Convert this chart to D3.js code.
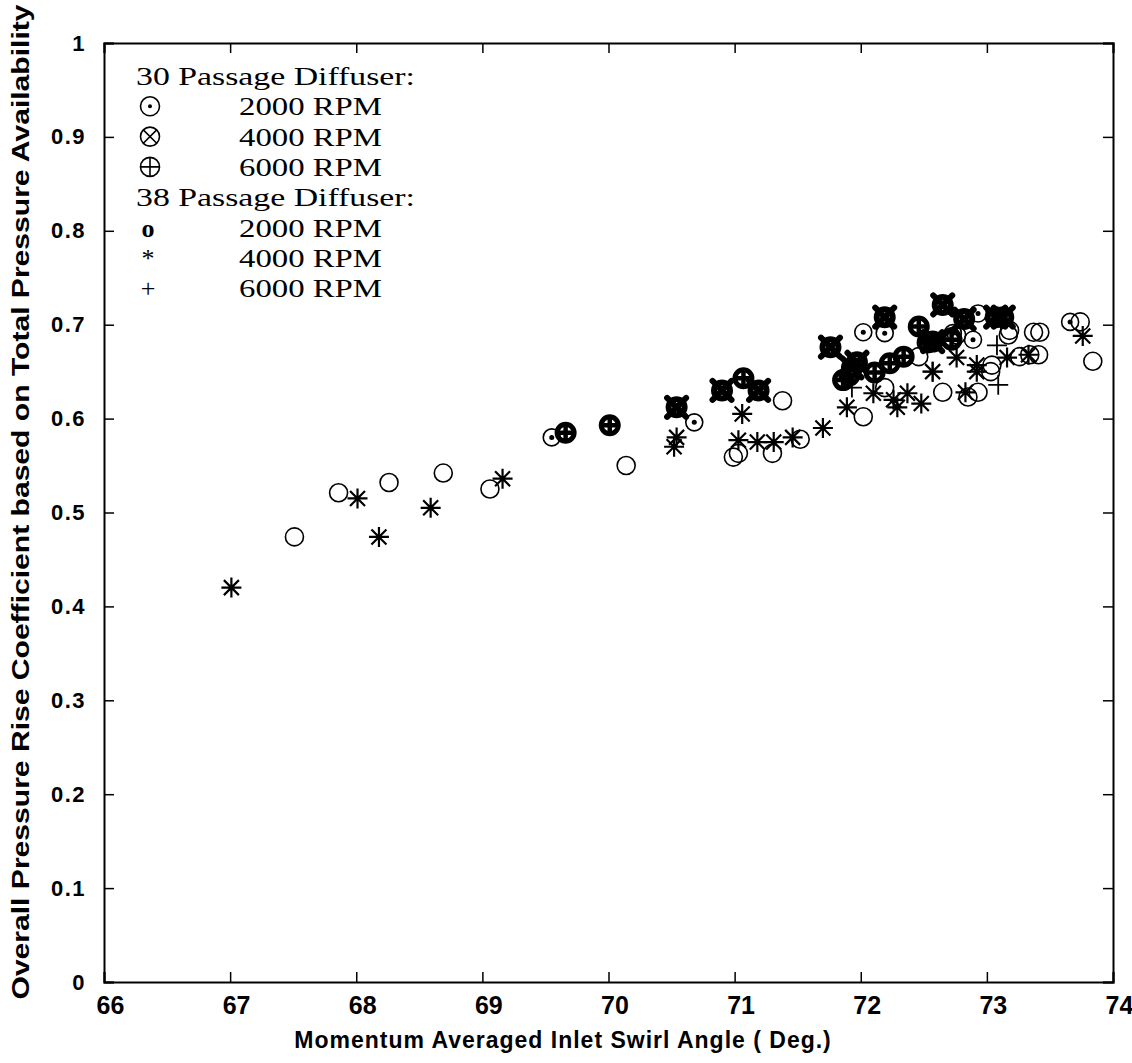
<!DOCTYPE html>
<html>
<head>
<meta charset="utf-8">
<script src="https://cdn.jsdelivr.net/npm/d3@7"></script>
<style>
  body { margin: 0; background: #fff; }
  svg text { fill: #000; }
</style>
</head>
<body>
<div id="chart"></div>
<script>
// 30 passage diffuser, [swirl angle, pressure rise coefficient]
const p30_2000 = [[69.55, 0.580], [70.68, 0.596], [72.02, 0.692], [72.19, 0.691], [72.93, 0.712],
  [72.89, 0.684], [72.73, 0.691], [73.66, 0.703]];
const p30_4000 = [[70.54, 0.612], [70.90, 0.630], [71.19, 0.630], [71.76, 0.676], [71.97, 0.660],
  [72.19, 0.708], [72.65, 0.721], [72.82, 0.706], [72.57, 0.682], [73.07, 0.708], [73.13, 0.708],
  [71.93, 0.654]];
const p30_6000 = [[69.66, 0.585], [70.01, 0.593], [71.07, 0.643], [71.86, 0.641], [71.91, 0.646],
  [72.11, 0.649], [72.23, 0.659], [72.34, 0.666], [72.46, 0.698], [72.53, 0.681], [72.72, 0.684]];

// 38 passage diffuser
const p38_2000 = [[67.51, 0.474], [67.86, 0.521], [68.26, 0.532], [68.69, 0.542], [69.06, 0.525],
  [70.14, 0.550], [70.99, 0.559], [71.03, 0.563], [71.30, 0.563], [71.38, 0.619], [71.52, 0.578],
  [72.02, 0.602], [72.19, 0.633], [72.46, 0.666], [72.65, 0.628], [72.85, 0.623], [72.93, 0.628],
  [73.03, 0.650], [73.04, 0.657], [72.72, 0.687], [72.76, 0.689], [73.17, 0.689], [73.18, 0.694],
  [73.26, 0.666], [73.34, 0.668], [73.41, 0.668], [73.37, 0.692], [73.42, 0.692], [73.74, 0.703],
  [73.84, 0.661]];
const p38_4000 = [[67.01, 0.420], [68.01, 0.515], [68.18, 0.474], [68.59, 0.505], [69.16, 0.536],
  [70.54, 0.580], [70.52, 0.570], [71.06, 0.605], [71.03, 0.577], [71.18, 0.575], [71.31, 0.575],
  [71.46, 0.580], [71.70, 0.590], [71.89, 0.612], [72.10, 0.627], [72.26, 0.620], [72.29, 0.612],
  [72.37, 0.627], [72.48, 0.616], [72.57, 0.650], [72.76, 0.665], [72.83, 0.628], [72.92, 0.657],
  [72.92, 0.650], [73.16, 0.665], [73.33, 0.668], [73.76, 0.688]];
const p38_6000 = [[72.57, 0.650], [73.08, 0.678], [73.09, 0.636], [71.93, 0.633]];

const xTicks = [66, 67, 68, 69, 70, 71, 72, 73, 74];
const yTicks = [0, 0.1, 0.2, 0.3, 0.4, 0.5, 0.6, 0.7, 0.8, 0.9, 1];

const legendRows = [
  { sym: "", text: "30 Passage Diffuser:" },
  { sym: "dot", text: "2000 RPM" },
  { sym: "cross", text: "4000 RPM" },
  { sym: "plus", text: "6000 RPM" },
  { sym: "", text: "38 Passage Diffuser:" },
  { sym: "o", text: "2000 RPM" },
  { sym: "*", text: "4000 RPM" },
  { sym: "+", text: "6000 RPM" }
];

const width = 1132, height = 1063;
const margin = { left: 104, right: 19, top: 43, bottom: 81 };

const svg = d3.select("#chart").append("svg")
  .attr("width", width)
  .attr("height", height);

const x = d3.scaleLinear().domain([66, 74]).range([margin.left, width - margin.right]);
const y = d3.scaleLinear().domain([0, 1]).range([height - margin.bottom, margin.top]);

const sansFont = "'Liberation Sans', Arial, sans-serif";
const serifFont = "'Liberation Serif', 'Times New Roman', serif";

// axes with inward ticks on all four sides
const tickLen = 10;
svg.append("g").attr("class", "xaxis").attr("transform", `translate(0,${y(0)})`)
  .call(d3.axisBottom(x).tickValues(xTicks).tickSize(-tickLen).tickFormat(d3.format("d")).tickPadding(14));
svg.append("g").attr("transform", `translate(0,${y(1)})`)
  .call(d3.axisTop(x).tickValues(xTicks).tickSize(-tickLen).tickFormat(""));
svg.append("g").attr("class", "yaxis").attr("transform", `translate(${x(66)},0)`)
  .call(d3.axisLeft(y).tickValues(yTicks).tickSize(-tickLen).tickFormat(d => d === 0 || d === 1 ? d : d3.format(".1f")(d)).tickPadding(18));
svg.append("g").attr("transform", `translate(${x(74)},0)`)
  .call(d3.axisRight(y).tickValues(yTicks).tickSize(-tickLen).tickFormat(""));

svg.selectAll(".domain").attr("stroke", "#000").attr("stroke-width", 2);
svg.selectAll(".tick line").attr("stroke", "#000").attr("stroke-width", 1.5);
svg.selectAll(".tick text")
  .attr("font-family", sansFont)
  .attr("font-weight", "bold");
svg.selectAll(".yaxis .tick text").attr("font-size", 22).attr("letter-spacing", 1.5);
svg.selectAll(".xaxis .tick text").attr("font-size", 25).attr("dx", 6);

// axis titles
svg.append("text")
  .attr("x", 563).attr("y", 1048)
  .attr("text-anchor", "middle")
  .attr("font-family", sansFont).attr("font-weight", "bold").attr("font-size", 23)
  .attr("letter-spacing", 1)
  .text("Momentum Averaged Inlet Swirl Angle ( Deg.)");

svg.append("text")
  .attr("transform", "translate(29,502) rotate(-90)")
  .attr("text-anchor", "middle")
  .attr("font-family", sansFont).attr("font-weight", "bold").attr("font-size", 23)
  .attr("textLength", 995).attr("lengthAdjust", "spacingAndGlyphs")
  .text("Overall Pressure Rise Coefficient based on Total Pressure Availability");

// marker drawers
function dotCircle(g) {
  g.append("circle").attr("r", 8.5).attr("fill", "none").attr("stroke", "#000").attr("stroke-width", 1.6);
  g.append("circle").attr("r", 2.5).attr("fill", "#000");
}
function crossCircle(g) {
  g.append("circle").attr("r", 8).attr("fill", "none").attr("stroke", "#000").attr("stroke-width", 6);
  g.append("path").attr("d", "M-9.5,-9.5L9.5,9.5M-9.5,9.5L9.5,-9.5")
    .attr("stroke", "#000").attr("stroke-width", 6).attr("stroke-linecap", "round");
}
function plusCircle(g) {
  g.append("circle").attr("r", 8.5).attr("fill", "none").attr("stroke", "#000").attr("stroke-width", 5);
  g.append("path").attr("d", "M-9,0L9,0M0,-9L0,9")
    .attr("stroke", "#000").attr("stroke-width", 4.5);
}
function openCircle(g) {
  g.append("circle").attr("r", 9).attr("fill", "none").attr("stroke", "#000").attr("stroke-width", 1.6);
}
function star(g) {
  g.append("path").attr("d", "M0,-10L0,10M-10,0L10,0M-7.5,-7.5L7.5,7.5M-7.5,7.5L7.5,-7.5")
    .attr("stroke", "#000").attr("stroke-width", 2.2);
}
function plus(g) {
  g.append("path").attr("d", "M-10,0L10,0M0,-10L0,10")
    .attr("stroke", "#000").attr("stroke-width", 1.8);
}

const series = [
  { data: p38_2000, draw: openCircle },
  { data: p38_4000, draw: star },
  { data: p38_6000, draw: plus },
  { data: p30_2000, draw: dotCircle },
  { data: p30_6000, draw: plusCircle },
  { data: p30_4000, draw: crossCircle }
];

series.forEach(s => {
  svg.append("g").selectAll("g")
    .data(s.data)
    .enter()
    .append("g")
    .attr("transform", d => `translate(${x(d[0])},${y(d[1])})`)
    .each(function () { s.draw(d3.select(this)); });
});

// legend: thin glyph-like symbols for the 30 passage rows, text for the rest
const legend = svg.append("g").attr("font-family", serifFont).attr("font-size", 26);
legendRows.forEach((r, i) => {
  const by = 85 + i * 30.3;
  if (r.sym === "") {
    legend.append("text").attr("x", 136).attr("y", by)
      .attr("textLength", 279).attr("lengthAdjust", "spacingAndGlyphs").text(r.text);
    return;
  }
  if (r.sym === "dot" || r.sym === "cross" || r.sym === "plus") {
    const g = legend.append("g").attr("transform", `translate(150,${by - 9})`);
    g.append("circle").attr("r", 9.5).attr("fill", "none").attr("stroke", "#000").attr("stroke-width", 1.6);
    if (r.sym === "dot") g.append("circle").attr("r", 2).attr("fill", "#000");
    if (r.sym === "cross") g.append("path").attr("d", "M-6.7,-6.7L6.7,6.7M-6.7,6.7L6.7,-6.7").attr("stroke", "#000").attr("stroke-width", 1.6);
    if (r.sym === "plus") g.append("path").attr("d", "M-9.5,0L9.5,0M0,-9.5L0,9.5").attr("stroke", "#000").attr("stroke-width", 1.6);
  } else {
    legend.append("text").attr("x", 148).attr("y", by).attr("text-anchor", "middle")
      .attr("font-weight", r.sym === "o" ? "bold" : "normal")
      .text(r.sym);
  }
  legend.append("text").attr("x", 239).attr("y", by)
    .attr("textLength", 143).attr("lengthAdjust", "spacingAndGlyphs").text(r.text);
});
</script>
</body>
</html>
